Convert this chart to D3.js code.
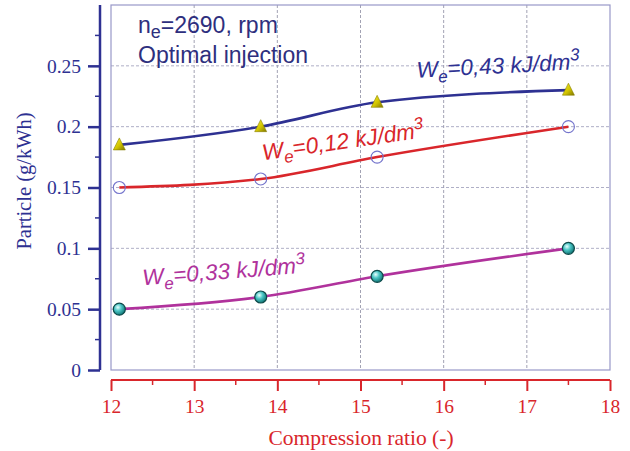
<!DOCTYPE html>
<html><head><meta charset="utf-8">
<script src="https://cdn.jsdelivr.net/npm/d3@7"></script>
<style>html,body{margin:0;padding:0;background:#fff;}</style>
</head><body>
<svg id="c" width="630" height="451"></svg>
<script>
const ratios = [12.1, 13.8, 15.2, 17.5];
const we043 = [0.185, 0.2, 0.22, 0.23];
const we012 = [0.15, 0.157, 0.175, 0.2];
const we033 = [0.05, 0.06, 0.077, 0.1];
const xTicks = [12, 13, 14, 15, 16, 17, 18];
const yTicks = [0, 0.05, 0.1, 0.15, 0.2, 0.25];
const yTickLabels = ["0", "0.05", "0.1", "0.15", "0.2", "0.25"];
const seriesNames = ["0,43", "0,12", "0,33"];

const svg = d3.select("#c");
const x = d3.scaleLinear().domain([12, 18]).range([111, 610]);
const y = d3.scaleLinear().domain([0, 0.3]).range([370, 5]);

const blue = "#2e3192", red = "#d9262b", mag = "#b0329c", navy = "#2e2f7e";

const defs = svg.append("defs");
const sg = defs.append("radialGradient").attr("id","sph").attr("cx","38%").attr("cy","35%").attr("r","65%");
sg.append("stop").attr("offset","0%").attr("stop-color","#e8ffff");
sg.append("stop").attr("offset","45%").attr("stop-color","#4cc6c6");
sg.append("stop").attr("offset","100%").attr("stop-color","#127878");
const tg = defs.append("linearGradient").attr("id","tri").attr("x1","0").attr("y1","0").attr("x2","1").attr("y2","1");
tg.append("stop").attr("offset","0%").attr("stop-color","#f4ee30");
tg.append("stop").attr("offset","55%").attr("stop-color","#d2c400");
tg.append("stop").attr("offset","100%").attr("stop-color","#7d7400");

// grid
const g = svg.append("g");
g.selectAll("line.vg").data(xTicks.slice(1, -1)).join("line")
  .attr("x1", d => x(d)).attr("x2", d => x(d)).attr("y1", y(0.3)).attr("y2", y(0))
  .attr("stroke", "#8a8aa0").attr("stroke-width", 0.8).attr("stroke-dasharray", "3,2");
g.selectAll("line.hg").data(yTicks.slice(1)).join("line")
  .attr("y1", d => y(d)).attr("y2", d => y(d)).attr("x1", x(12)).attr("x2", x(18))
  .attr("stroke", "#9a9ab8").attr("stroke-width", 0.8).attr("stroke-dasharray", "3,2");
// frame
g.append("rect").attr("x", x(12)).attr("y", y(0.3)).attr("width", x(18) - x(12)).attr("height", y(0) - y(0.3))
  .attr("fill", "none").attr("stroke", "#9898c8").attr("stroke-width", 1.2);

// y axis
const yAxis = d3.axisLeft(y).tickValues(yTicks).tickSize(12).tickFormat((d, i) => yTickLabels[i]);
const ya = svg.append("g").attr("transform", "translate(100,0)").call(yAxis);
ya.select(".domain").attr("stroke", blue).attr("stroke-width", 2.5).attr("d", `M0,${y(0.3)}V${y(0)}`);
ya.selectAll(".tick line").attr("stroke", blue).attr("stroke-width", 2.5);
ya.selectAll(".tick text").attr("fill", blue).attr("font-family", "Liberation Serif, serif").attr("font-size", 19.5).attr("x", -19);
const yMinor = d3.range(0.025, 0.3, 0.05);
svg.append("g").selectAll("line").data(yMinor).join("line")
  .attr("x1", 95).attr("x2", 100).attr("y1", d => y(d)).attr("y2", d => y(d))
  .attr("stroke", blue).attr("stroke-width", 1.5);

// x axis
const xAxis = d3.axisBottom(x).tickValues(xTicks).tickSize(11).tickFormat(d3.format("d"));
const xa = svg.append("g").attr("transform", "translate(0,380)").call(xAxis);
xa.select(".domain").attr("stroke", red).attr("stroke-width", 2).attr("d", `M${x(12)},0H${x(18)}`);
xa.selectAll(".tick line").attr("stroke", red).attr("stroke-width", 2);
xa.selectAll(".tick text").attr("fill", red).attr("font-family", "Liberation Serif, serif").attr("font-size", 19.5).attr("y", 19);
const xMinor = d3.range(12.5, 18, 1);
svg.append("g").selectAll("line").data(xMinor).join("line")
  .attr("x1", d => x(d)).attr("x2", d => x(d)).attr("y1", 380).attr("y2", 385)
  .attr("stroke", red).attr("stroke-width", 1.5);

// titles
svg.append("text").attr("x", 361).attr("y", 445).attr("text-anchor", "middle")
  .attr("fill", red).attr("font-family", "Liberation Serif, serif").attr("font-size", 21.5).text("Compression ratio (-)");
svg.append("text").attr("transform", "translate(31,181) rotate(-90)").attr("text-anchor", "middle")
  .attr("fill", blue).attr("font-family", "Liberation Serif, serif").attr("font-size", 20.5).text("Particle (g/kWh)");

// lines
const line = d3.line().x((d, i) => x(ratios[i])).y(d => y(d)).curve(d3.curveMonotoneX);
[[we043, blue], [we012, red], [we033, mag]].forEach(([vals, col]) => {
  svg.append("path").attr("d", line(vals)).attr("fill", "none").attr("stroke", col).attr("stroke-width", 2.6);
});

// markers
svg.append("g").selectAll("path").data(we043).join("path")
  .attr("transform", (d, i) => `translate(${x(ratios[i])},${y(d)})`)
  .attr("d", "M0,-7L6,5L-6,5Z").attr("fill", "url(#tri)").attr("stroke", "#8a8200").attr("stroke-width", 0.6);
svg.append("g").selectAll("circle").data(we012).join("circle")
  .attr("cx", (d, i) => x(ratios[i])).attr("cy", d => y(d)).attr("r", 6)
  .attr("fill", "none").attr("stroke", "#7474cc").attr("stroke-width", 1.1);
svg.append("g").selectAll("circle").data(we033).join("circle")
  .attr("cx", (d, i) => x(ratios[i])).attr("cy", d => y(d)).attr("r", 6)
  .attr("fill", "url(#sph)").attr("stroke", "#0e4a4a").attr("stroke-width", 1.2);

// annotation
const ann = svg.append("text").attr("x", 138).attr("y", 33).attr("fill", navy)
  .attr("font-family", "Liberation Sans, Arial, sans-serif").attr("font-size", 23);
ann.append("tspan").text("n");
ann.append("tspan").attr("dy", 5).attr("font-size", 18).text("e");
ann.append("tspan").attr("dy", -5).text("=2690, rpm");
svg.append("text").attr("x", 138).attr("y", 63).attr("fill", navy)
  .attr("font-family", "Liberation Sans, Arial, sans-serif").attr("font-size", 23).text("Optimal injection");

// series labels
const labels = [
  {name: seriesNames[0], xv: 15.68, yv: 0.2403, rot: -3, col: blue},
  {name: seriesNames[1], xv: 13.83, yv: 0.1725, rot: -8, col: red},
  {name: seriesNames[2], xv: 12.385, yv: 0.0697, rot: -4.4, col: mag}
];
labels.forEach(l => {
  const t = svg.append("text").attr("transform", `translate(${x(l.xv)},${y(l.yv)}) rotate(${l.rot})`)
    .attr("fill", l.col).attr("font-family", "Liberation Sans, Arial, sans-serif").attr("font-size", 22.5).attr("font-style", "italic");
  t.append("tspan").text("W");
  t.append("tspan").attr("dy", 6).attr("font-size", 17).text("e");
  t.append("tspan").attr("dy", -6).text(`=${l.name} kJ/dm`);
  t.append("tspan").attr("dy", -9).attr("font-size", 17).text("3");
});
</script>
</body></html>
